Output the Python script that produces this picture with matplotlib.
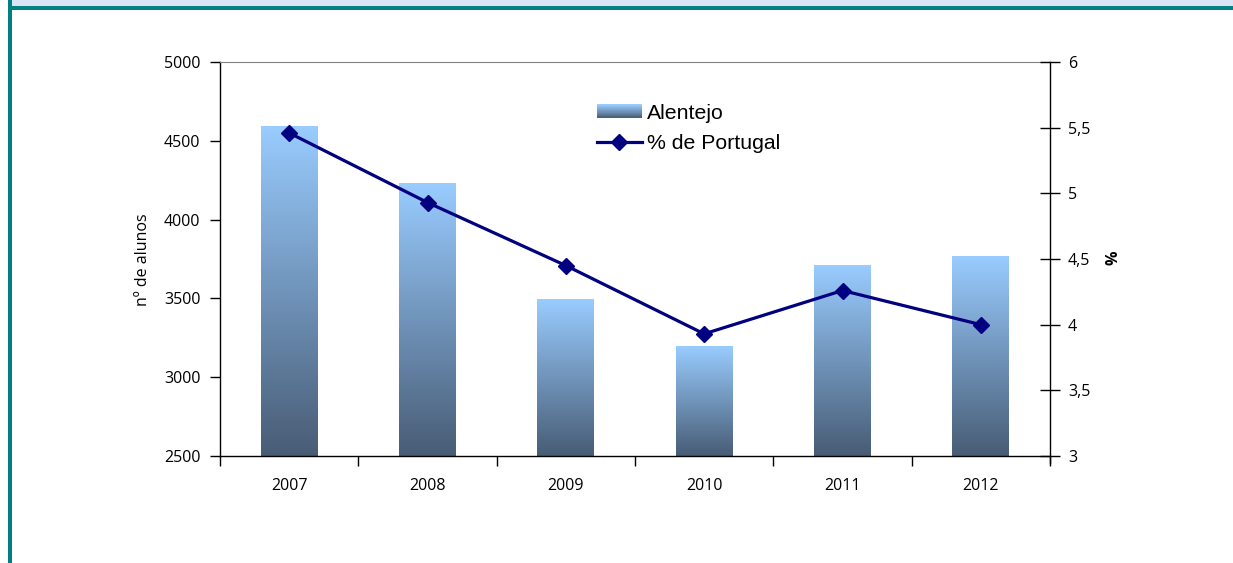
import numpy as np
import matplotlib
matplotlib.use('Agg')
import matplotlib.pyplot as plt
from matplotlib.colors import LinearSegmentedColormap
from matplotlib.patches import Rectangle
from matplotlib.lines import Line2D
from matplotlib.legend_handler import HandlerBase

# data
years = ['2007', '2008', '2009', '2010', '2011', '2012']
alentejo = [4592, 4232, 3496, 3192, 3706, 3769]
pct_portugal = [5.46, 4.93, 4.45, 3.93, 4.26, 4.00]

left_ticks = [2500, 3000, 3500, 4000, 4500, 5000]
right_ticks = [3, 3.5, 4, 4.5, 5, 5.5, 6]
right_ticklabels = ['3', '3,5', '4', '4,5', '5', '5,5', '6']

dark = '#485c75'
light = '#99ccff'
navy = '#000080'
teal = '#008080'
cmap = LinearSegmentedColormap.from_list('barfade', [dark, light])
tfs = 11.5

W, H = 1233, 563
fig = plt.figure(figsize=(W / 100, H / 100), dpi=100)
fig.patch.set_facecolor('white')

# page frame bits (top band + teal rules)
fig.add_artist(Rectangle((12 / W, 1 - 6 / H), 1, 6 / H, transform=fig.transFigure,
                         facecolor='#dae4f7', edgecolor='none'))
fig.add_artist(Rectangle((8 / W, 1 - 10 / H), 1, 4 / H, transform=fig.transFigure,
                         facecolor=teal, edgecolor='none'))
fig.add_artist(Rectangle((8 / W, 0), 4 / W, 1, transform=fig.transFigure,
                         facecolor=teal, edgecolor='none'))

ax = fig.add_axes([220 / W, 1 - 456 / H, 830 / W, 394 / H])
x = np.arange(len(years))
bars = ax.bar(x, alentejo, width=0.41, bottom=0, color='none', edgecolor='none')

grad = np.linspace(0, 1, 256).reshape(-1, 1)
for b in bars:
    x0 = b.get_x()
    ax.imshow(grad, extent=[x0, x0 + b.get_width(), 2500, b.get_height()],
              origin='lower', aspect='auto', cmap=cmap, zorder=1, interpolation='bilinear')

ax.set_xlim(-0.5, len(years) - 0.5)
ax.set_ylim(2500, 5000)
ax.set_yticks(left_ticks)
ax.set_xticks(x)
ax.set_xticklabels(years)
ax.set_xticks(np.arange(-0.5, len(years), 1), minor=True)
ax.tick_params(axis='x', which='major', length=0, pad=16, labelsize=tfs)
ax.tick_params(axis='x', which='minor', length=7, direction='out', width=1)
ax.tick_params(axis='y', length=7, direction='out', width=1, pad=7, labelsize=tfs)
for lab in ax.get_xticklabels() + ax.get_yticklabels():
    lab.set_family('Open Sans')

ax.spines['top'].set_color('#808080')
ax.spines['right'].set_visible(False)
ax.spines['left'].set_linewidth(1)
ax.spines['bottom'].set_linewidth(1)

ax2 = ax.twinx()
line, = ax2.plot(x, pct_portugal, color=navy, lw=2.3, marker='D', markersize=8,
                 markeredgecolor=navy, markerfacecolor=navy, zorder=5)
ax2.set_ylim(3, 6)
ax2.set_yticks(right_ticks)
ax2.set_yticklabels(right_ticklabels)
ax2.tick_params(axis='y', length=14, direction='inout', width=1, pad=6, labelsize=tfs)
for lab in ax2.get_yticklabels():
    lab.set_family('Open Sans')
for s in ['top', 'left', 'bottom']:
    ax2.spines[s].set_visible(False)
ax2.spines['right'].set_linewidth(1)
ax2.spines['right'].set_bounds(3 - 0.05, 6)

fig.text(143 / W, 1 - 260 / H, 'nº de alunos', rotation=90, ha='center', va='center',
         fontsize=tfs, family='Open Sans')
fig.text(1113 / W, 1 - 258 / H, '%', rotation=90, ha='center', va='center',
         fontsize=tfs, family='Open Sans', fontweight='bold')


class HandlerGradient(HandlerBase):
    def create_artists(self, legend, orig_handle, xdescent, ydescent, width, height,
                       fontsize, trans):
        n = 24
        arts = []
        for i in range(n):
            r = Rectangle((-xdescent, -ydescent + height * i / n), width, height / n + 0.3,
                          facecolor=cmap(i / (n - 1)), edgecolor='none', transform=trans)
            arts.append(r)
        return arts


grad_handle = Rectangle((0, 0), 1, 1)
line_handle = Line2D([], [], color=navy, lw=2.3, marker='D', markersize=8)
leg = ax2.legend([grad_handle, line_handle], ['Alentejo', '% de Portugal'],
                 handler_map={Rectangle: HandlerGradient()},
                 loc='upper left', bbox_to_anchor=(582 / W, 1 - 89 / H),
                 bbox_transform=fig.transFigure, frameon=False,
                 prop={'family': 'Liberation Sans', 'size': 15.3},
                 handlelength=2.1, handleheight=0.6, handletextpad=0.25,
                 labelspacing=0.52, borderpad=0.2)

fig.savefig('out.png', dpi=100)
